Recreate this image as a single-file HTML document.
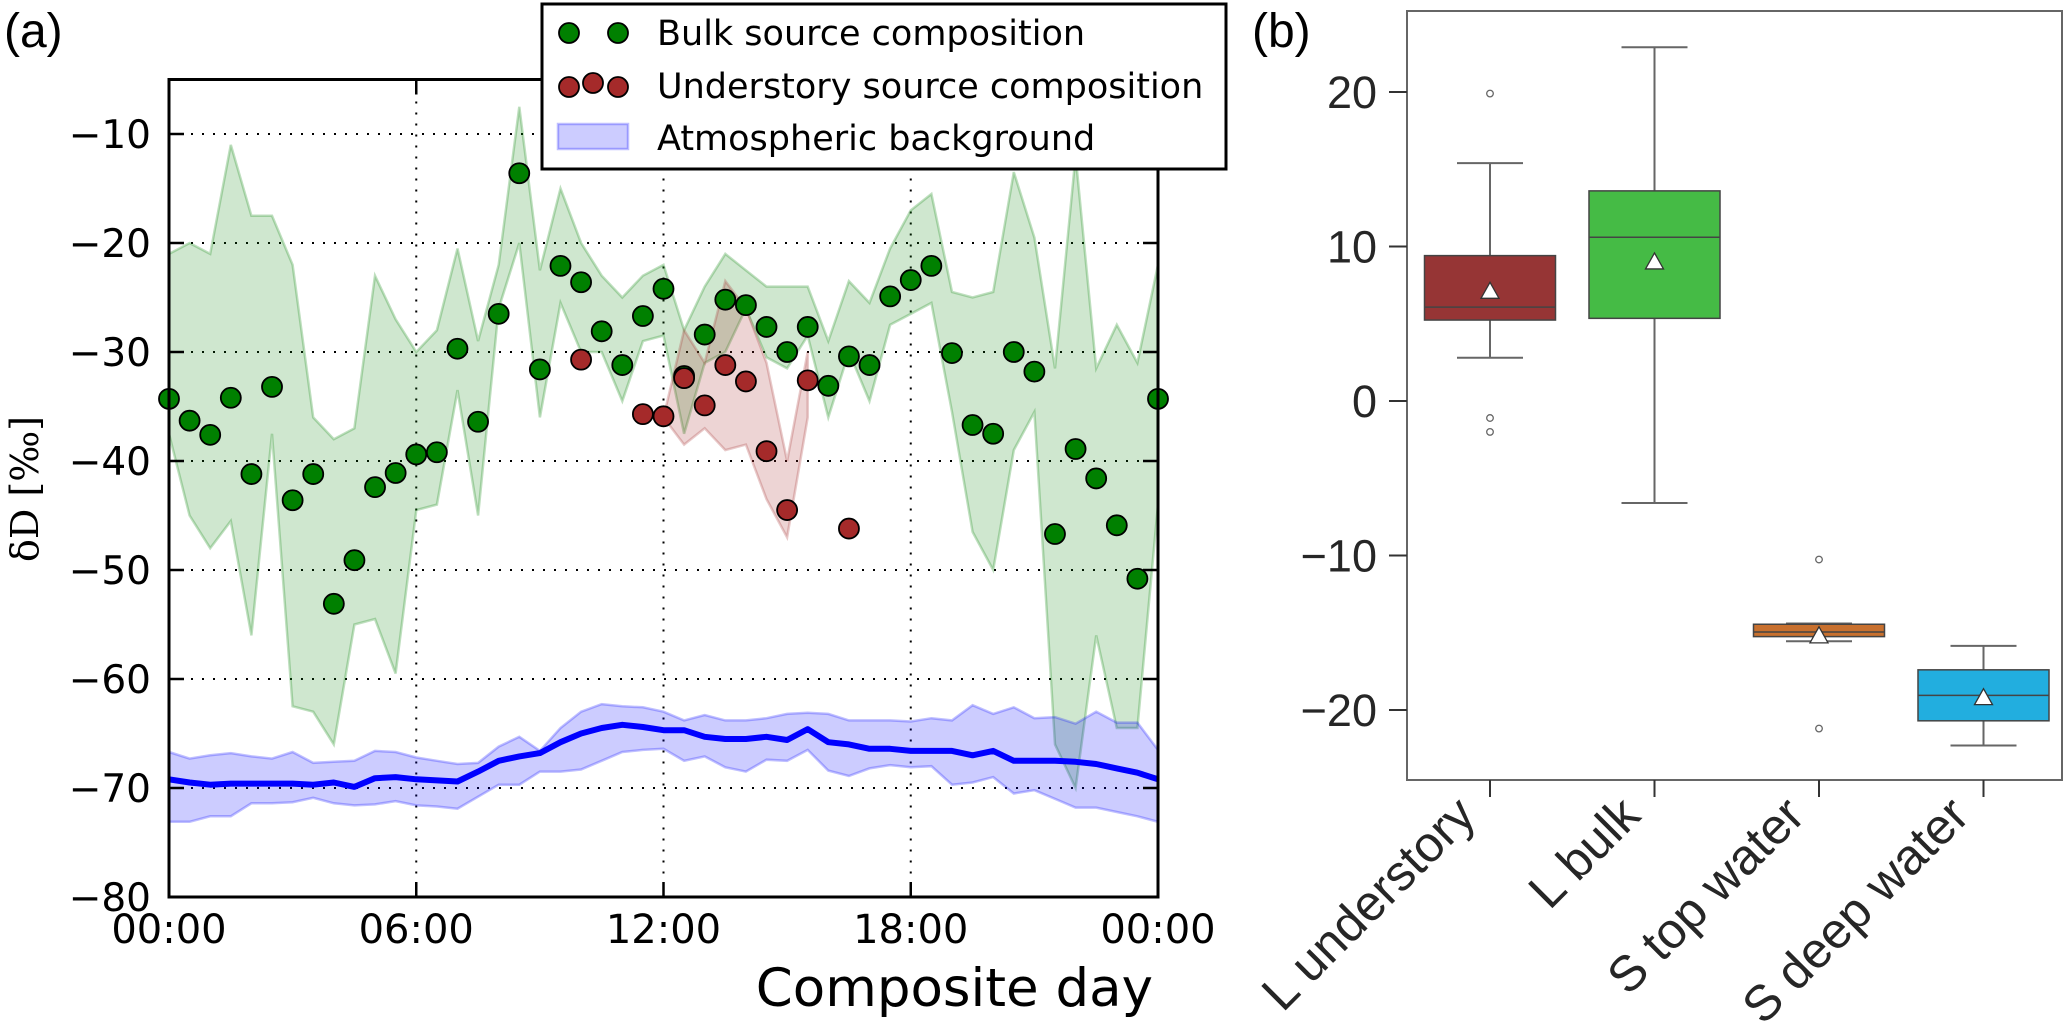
<!DOCTYPE html>
<html><head><meta charset="utf-8">
<style>
html,body{margin:0;padding:0;background:#fff;}
svg{display:block;}
</style></head>
<body>
<svg id="fig" width="2067" height="1022" viewBox="0 0 2067 1022" xmlns="http://www.w3.org/2000/svg">
  <g id="panelA"></g>
  <g id="panelB"></g>
</svg>
<script>
// ---------- Panel (a) data ----------
const hours = [0,0.5,1,1.5,2,2.5,3,3.5,4,4.5,5,5.5,6,6.5,7,7.5,8,8.5,9,9.5,10,10.5,11,11.5,12,12.5,13,13.5,14,14.5,15,15.5,16,16.5,17,17.5,18,18.5,19,19.5,20,20.5,21,21.5,22,22.5,23,23.5,24];
const bulkValues = [-34.3,-36.3,-37.6,-34.2,-41.2,-33.2,-43.6,-41.2,-53.1,-49.1,-42.4,-41.1,-39.4,-39.2,-29.7,-36.4,-26.5,-13.6,-31.6,-22.1,-23.6,-28.1,-31.2,-26.7,-24.2,-32.2,-28.4,-25.2,-25.7,-27.7,-30.0,-27.7,-33.1,-30.4,-31.2,-24.9,-23.4,-22.1,-30.1,-36.7,-37.5,-30.0,-31.8,-46.7,-38.9,-41.6,-45.9,-50.8,-34.3];
const bulkUpper = [-21,-20,-21,-11,-17.5,-17.5,-22,-36,-38,-37,-23,-27,-30,-28,-20.5,-29,-22,-7.5,-22.5,-15,-20,-23,-25,-23,-22,-28,-24,-21,-22.5,-24,-24,-24,-29,-23.5,-25.5,-20.5,-17,-15.5,-24.5,-25,-24.5,-13.5,-19.5,-31.5,-12,-31.5,-27.5,-31,-22];
const bulkLower = [-37.5,-45,-48,-45.5,-56,-37.5,-62.5,-63,-66,-55,-54.5,-59.5,-44.5,-44,-33.5,-45,-26,-20,-36,-25.5,-30,-30,-34.5,-29,-28.5,-37.5,-31,-30,-26,-30.5,-31.5,-28.5,-36,-30,-34.5,-27.5,-26.5,-25.5,-35.5,-46.5,-50,-39,-35.5,-66,-70,-56,-64.5,-64.5,-44];
const underHours = [10,11.5,12,12.5,13,13.5,14,14.5,15,15.5,16.5];
const underValues = [-30.7,-35.7,-35.9,-32.4,-34.9,-31.2,-32.7,-39.1,-44.5,-32.6,-46.2];
const underBandHours = [11.5,12,12.5,13,13.5,14,14.5,15,15.5];
const underUpper = [-36,-36,-28,-31,-23.5,-26,-31,-40,-30];
const underLower = [-36,-36,-38.5,-37,-39,-38.5,-43.5,-47,-36];
const atmLine = [-69.2,-69.5,-69.7,-69.6,-69.6,-69.6,-69.6,-69.7,-69.5,-69.9,-69.1,-69.0,-69.2,-69.3,-69.4,-68.5,-67.5,-67.1,-66.8,-65.8,-65.0,-64.5,-64.2,-64.4,-64.7,-64.7,-65.3,-65.5,-65.5,-65.3,-65.6,-64.6,-65.8,-66.0,-66.4,-66.4,-66.6,-66.6,-66.6,-67.0,-66.6,-67.5,-67.5,-67.5,-67.6,-67.8,-68.2,-68.6,-69.2];
const atmUpper = [-66.7,-67.3,-67.0,-66.8,-67.1,-67.3,-66.7,-67.7,-67.6,-67.5,-66.6,-66.7,-67.2,-67.5,-67.8,-67.7,-66.2,-65.3,-66.6,-64.5,-63.0,-62.3,-62.5,-62.6,-63.0,-63.8,-63.3,-63.8,-63.8,-63.6,-63.2,-63.1,-63.2,-63.8,-63.8,-63.8,-63.9,-63.6,-63.8,-62.4,-63.2,-62.6,-63.6,-63.5,-64.1,-63.0,-64.0,-64.0,-66.5];
const atmLower = [-73.1,-73.1,-72.6,-72.6,-71.4,-71.4,-71.3,-70.9,-71.4,-71.6,-71.5,-71.2,-71.6,-71.7,-71.9,-70.8,-69.7,-69.7,-68.5,-68.5,-68.3,-67.5,-66.7,-66.5,-66.4,-67.5,-67.1,-68.1,-68.5,-67.4,-67.5,-66.5,-68.4,-68.9,-68.2,-67.9,-68.1,-68.0,-69.7,-69.5,-69.0,-70.5,-70.2,-71.0,-71.8,-71.8,-72.2,-72.6,-73.1];
const yTicksA = [-80,-70,-60,-50,-40,-30,-20,-10];
const xTicksA = [0,6,12,18,24];
const xTickLabelsA = ["00:00","06:00","12:00","18:00","00:00"];

// ---------- Panel (b) data ----------
const categories = ["L understory","L bulk","S top water","S deep water"];
const q1 = [5.24,5.35,-15.25,-20.7];
const medians = [6.08,10.6,-14.95,-19.05];
const q3 = [9.41,13.6,-14.45,-17.4];
const whiskLow = [2.8,-6.6,-15.55,-22.3];
const whiskHigh = [15.4,22.9,-14.4,-15.85];
const means = [7.1,9.0,-15.2,-19.2];
const outliers = [[19.9,-1.1,-2.0],[],[-10.26,-21.2],[]];
const boxColors = ["#963535","#45bb45","#c8702e","#22aedf"];
const yTicksB = [-20,-10,0,10,20];

const NS = "http://www.w3.org/2000/svg";
function mk(parent, tag, attrs, text){
  const e = document.createElementNS(NS, tag);
  for (const k in attrs) e.setAttribute(k, attrs[k]);
  if (text !== undefined) e.textContent = text;
  parent.appendChild(e);
  return e;
}

// ---------- Panel (a) ----------
const A = document.getElementById('panelA');
const AX0 = 169, AX1 = 1158, AY0 = 79.5, AY1 = 897;
const xA = h => AX0 + (h / 24) * (AX1 - AX0);
const yA = v => AY1 - (v + 80) / 75 * (AY1 - AY0);

yTicksA.forEach(v => {
  if (v === -80) return;
  const g = mk(A, 'line', {x1: AX0, x2: AX1, y1: yA(v), y2: yA(v), stroke: '#000', 'stroke-width': 2, 'stroke-dasharray': '2,9'});
  
  
});
xTicksA.forEach(h => {
  if (h === 0 || h === 24) return;
  const g = mk(A, 'line', {x1: xA(h), x2: xA(h), y1: AY0, y2: AY1, stroke: '#000', 'stroke-width': 2, 'stroke-dasharray': '2,9'});
  
  
});

function bandPath(xs, up, lo){
  let d = '';
  xs.forEach((h, i) => { d += (i ? 'L' : 'M') + xA(h).toFixed(1) + ',' + yA(up[i]).toFixed(1); });
  for (let i = xs.length - 1; i >= 0; i--) d += 'L' + xA(xs[i]).toFixed(1) + ',' + yA(lo[i]).toFixed(1);
  return d + 'Z';
}
const clip = mk(A, 'clipPath', {id: 'clipA'});
mk(clip, 'rect', {x: AX0, y: AY0, width: AX1 - AX0, height: AY1 - AY0});
const plotG = mk(A, 'g', {'clip-path': 'url(#clipA)'});



const gb = mk(plotG, 'path', {d: bandPath(hours, bulkUpper, bulkLower), fill: 'rgba(0,128,0,0.19)', stroke: 'rgba(0,128,0,0.25)', 'stroke-width': 2.5});


const rb = mk(plotG, 'path', {d: bandPath(underBandHours, underUpper, underLower), fill: 'rgba(165,42,42,0.2)', stroke: 'rgba(165,42,42,0.25)', 'stroke-width': 2.5});


const bb = mk(plotG, 'path', {d: bandPath(hours, atmUpper, atmLower), fill: 'rgba(0,0,255,0.2)', stroke: 'rgba(0,0,255,0.25)', 'stroke-width': 2.5});



let ld = '';
hours.forEach((h, i) => { ld += (i ? 'L' : 'M') + xA(h).toFixed(1) + ',' + yA(atmLine[i]).toFixed(1); });
const bl = mk(plotG, 'path', {d: ld, fill: 'none', stroke: '#0000ff', 'stroke-width': 6, 'stroke-linejoin': 'round'});



hours.forEach((h, i) => {
  const c = mk(A, 'circle', {cx: xA(h), cy: yA(bulkValues[i]), r: 10, fill: '#008000', stroke: '#000', 'stroke-width': 1.8});
  
  
});
underHours.forEach((h, i) => {
  const c = mk(A, 'circle', {cx: xA(h), cy: yA(underValues[i]), r: 10, fill: '#a52a2a', stroke: '#000', 'stroke-width': 1.8});
  
  
});

const fr = mk(A, 'rect', {x: AX0, y: AY0, width: AX1 - AX0, height: AY1 - AY0, fill: 'none', stroke: '#000', 'stroke-width': 3});



yTicksA.forEach(v => {
  const y = yA(v);
  mk(A, 'line', {x1: AX0, x2: AX0 + 15, y1: y, y2: y, stroke: '#000', 'stroke-width': 2.5});
  mk(A, 'line', {x1: AX1, x2: AX1 - 15, y1: y, y2: y, stroke: '#000', 'stroke-width': 2.5});
  const t = mk(A, 'text', {x: 151, y: y + 14, 'text-anchor': 'end', 'font-family': '"DejaVu Sans", sans-serif', 'font-size': 39, fill: '#000'}, '\u2212' + Math.abs(v));
  
  
});
xTicksA.forEach((h, i) => {
  const x = xA(h);
  mk(A, 'line', {x1: x, x2: x, y1: AY1, y2: AY1 - 15, stroke: '#000', 'stroke-width': 2.5});
  mk(A, 'line', {x1: x, x2: x, y1: AY0, y2: AY0 + 15, stroke: '#000', 'stroke-width': 2.5});
  const t = mk(A, 'text', {x: x, y: 943, 'text-anchor': 'middle', 'font-family': '"DejaVu Sans", sans-serif', 'font-size': 40, fill: '#000'}, xTickLabelsA[i]);
  
  
});
const xt = mk(A, 'text', {x: 1153, y: 1006, 'text-anchor': 'end', 'font-family': '"DejaVu Sans", sans-serif', 'font-size': 53, fill: '#000'}, 'Composite day');


const yt = mk(A, 'text', {x: 0, y: 0, transform: 'translate(38,489) rotate(-90)', 'text-anchor': 'middle', 'font-family': '"DejaVu Serif", serif', 'font-size': 38, fill: '#000'}, '\u03B4D [\u2030]');


const la = mk(A, 'text', {x: 4, y: 47, 'font-family': '"Liberation Sans", sans-serif', 'font-size': 48, fill: '#000'}, '(a)');



const L = mk(A, 'g', {});


mk(L, 'rect', {x: 542, y: 4, width: 684, height: 165, fill: '#fff', stroke: '#000', 'stroke-width': 3});
[569, 618].forEach(x => mk(L, 'circle', {cx: x, cy: 33, r: 10, fill: '#008000', stroke: '#000', 'stroke-width': 1.8}));
[[569, 87], [593, 83], [618, 87]].forEach(p => mk(L, 'circle', {cx: p[0], cy: p[1], r: 10, fill: '#a52a2a', stroke: '#000', 'stroke-width': 1.8}));
mk(L, 'rect', {x: 558, y: 124, width: 70, height: 25, fill: 'rgba(0,0,255,0.2)', stroke: 'rgba(0,0,255,0.25)', 'stroke-width': 2.5});
const legTexts = [['Bulk source composition', 45, 'legend-entry-bulk'], ['Understory source composition', 98, 'legend-entry-understory'], ['Atmospheric background', 150, 'legend-entry-atmospheric']];
legTexts.forEach(a => {
  const t = mk(L, 'text', {x: 657, y: a[1], 'font-family': '"DejaVu Sans", sans-serif', 'font-size': 35, fill: '#000'}, a[0]);
  
  
});

// ---------- Panel (b) ----------
const B = document.getElementById('panelB');
const BX0 = 1407, BX1 = 2062, BY0 = 11, BY1 = 780;
const yB = v => 401 - v * 15.45;
const xB = i => 1490 + i * 164.5;
const boxW = 131;

const fb = mk(B, 'rect', {x: BX0, y: BY0, width: BX1 - BX0, height: BY1 - BY0, fill: 'none', stroke: '#666', 'stroke-width': 2});



yTicksB.forEach(v => {
  const y = yB(v);
  mk(B, 'line', {x1: BX0 - 18, x2: BX0, y1: y, y2: y, stroke: '#333', 'stroke-width': 2});
  const t = mk(B, 'text', {x: 1377, y: y + 16, 'text-anchor': 'end', 'font-family': '"Liberation Sans", sans-serif', 'font-size': 45, fill: '#262626'}, (v < 0 ? '\u2212' : '') + Math.abs(v));
  
  
});

categories.forEach((c, i) => {
  const x = xB(i);
  const g = mk(B, 'g', {});
  
  
  mk(g, 'line', {x1: x, x2: x, y1: yB(q3[i]), y2: yB(whiskHigh[i]), stroke: '#666', 'stroke-width': 2});
  mk(g, 'line', {x1: x, x2: x, y1: yB(q1[i]), y2: yB(whiskLow[i]), stroke: '#666', 'stroke-width': 2});
  mk(g, 'line', {x1: x - 33, x2: x + 33, y1: yB(whiskHigh[i]), y2: yB(whiskHigh[i]), stroke: '#666', 'stroke-width': 2});
  mk(g, 'line', {x1: x - 33, x2: x + 33, y1: yB(whiskLow[i]), y2: yB(whiskLow[i]), stroke: '#666', 'stroke-width': 2});
  mk(g, 'rect', {x: x - boxW / 2, y: yB(q3[i]), width: boxW, height: yB(q1[i]) - yB(q3[i]), fill: boxColors[i], stroke: '#444', 'stroke-width': 1.5});
  mk(g, 'line', {x1: x - boxW / 2, x2: x + boxW / 2, y1: yB(medians[i]), y2: yB(medians[i]), stroke: '#444', 'stroke-width': 1.5});
  const my = yB(means[i]);
  const tri = mk(g, 'polygon', {points: `${x},${my - 9} ${x - 9},${my + 7} ${x + 9},${my + 7}`, fill: '#fff', stroke: '#333', 'stroke-width': 1.3});
  
  
  outliers[i].forEach(o => {
    const oc = mk(g, 'circle', {cx: x, cy: yB(o), r: 3.3, fill: 'none', stroke: '#666', 'stroke-width': 1.3});
    
    
  });
  mk(B, 'line', {x1: x, x2: x, y1: BY1, y2: BY1 + 17, stroke: '#333', 'stroke-width': 2});
  const t = mk(B, 'text', {x: 0, y: 0, transform: `translate(${x - 12},${BY1 + 38}) rotate(-45)`, 'text-anchor': 'end', 'font-family': '"Liberation Sans", sans-serif', 'font-size': 50, fill: '#262626'}, c);
  
  
});
const lb = mk(B, 'text', {x: 1252, y: 47, 'font-family': '"Liberation Sans", sans-serif', 'font-size': 48, fill: '#000'}, '(b)');


</script>
</body></html>
